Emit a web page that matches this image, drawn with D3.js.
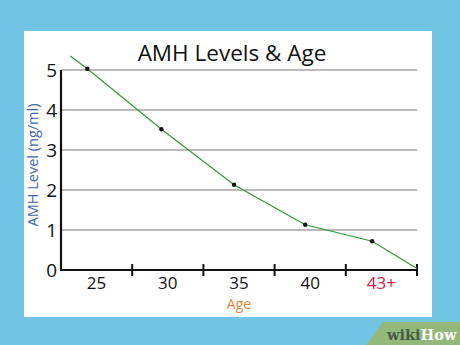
<!DOCTYPE html>
<html>
<head>
<meta charset="utf-8">
<script src="https://cdn.jsdelivr.net/npm/d3@7"></script>
<style>
  body { margin: 0; background: #72c4e4; }
  svg { display: block; }
</style>
</head>
<body>
<div id="container"></div>
<script>
let w = 460;
let h = 345;

// data
let ageLabels = ["25", "30", "35", "40", "43+"];
let yTicks = [0, 1, 2, 3, 4, 5];
// x in axis units (0..5, one unit per age band), y in ng/ml
let curveX = [0.13, 0.37, 1.41, 2.43, 3.43, 4.37, 5];
let curveY = [5.35, 5.03, 3.52, 2.13, 1.13, 0.72, 0.04];
let dotIndex = [1, 2, 3, 4, 5];

let viz = d3.select("#container")
  .append("svg")
    .attr("width", w)
    .attr("height", h)
;

// white panel
viz.append("rect")
  .attr("x", 24).attr("y", 31)
  .attr("width", 408).attr("height", 286)
  .attr("fill", "white");

let font = "'Open Sans', sans-serif";

viz.append("text")
  .text("AMH Levels & Age")
  .attr("x", 232).attr("y", 61)
  .attr("text-anchor", "middle")
  .attr("font-family", font)
  .attr("font-size", 22.5)
  .attr("fill", "#111");

let xScale = d3.scaleLinear().domain([0, 5]).range([61, 417]);
let yScale = d3.scaleLinear().domain([0, 5]).range([270, 70]);

// gridlines
viz.append("g").selectAll("line")
  .data(yTicks.filter(d => d > 0))
  .enter().append("line")
    .attr("x1", xScale(0)).attr("x2", xScale(5))
    .attr("y1", d => yScale(d)).attr("y2", d => yScale(d))
    .attr("stroke", "#777")
    .attr("stroke-width", 1);

// y tick labels
viz.append("g").selectAll("text")
  .data(yTicks)
  .enter().append("text")
    .text(d => d)
    .attr("x", 57)
    .attr("y", d => yScale(d) + 7)
    .attr("text-anchor", "end")
    .attr("font-family", font)
    .attr("font-size", 19)
    .attr("fill", "#111");

// axes
viz.append("line")
  .attr("x1", xScale(0)).attr("x2", xScale(0))
  .attr("y1", yScale(5)).attr("y2", yScale(0) + 1)
  .attr("stroke", "#111").attr("stroke-width", 2.2);
viz.append("line")
  .attr("x1", xScale(0)).attr("x2", xScale(5))
  .attr("y1", yScale(0)).attr("y2", yScale(0))
  .attr("stroke", "#111").attr("stroke-width", 2.2);

viz.append("g").selectAll("line")
  .data([1, 2, 3, 4, 5])
  .enter().append("line")
    .attr("x1", d => xScale(d)).attr("x2", d => xScale(d))
    .attr("y1", yScale(0) - 6).attr("y2", yScale(0) + 6)
    .attr("stroke", "#111").attr("stroke-width", 2);

// age labels
viz.append("g").selectAll("text")
  .data(ageLabels)
  .enter().append("text")
    .text(d => d)
    .attr("x", (d, i) => xScale(i + 0.5))
    .attr("y", 289)
    .attr("text-anchor", "middle")
    .attr("font-family", font)
    .attr("font-size", 17)
    .attr("fill", d => d == "43+" ? "#d3243f" : "#111");

viz.append("text")
  .text("Age")
  .attr("x", 239).attr("y", 309)
  .attr("text-anchor", "middle")
  .attr("font-family", font)
  .attr("font-size", 14)
  .attr("fill", "#e3823f");

viz.append("text")
  .text("AMH Level (ng/ml)")
  .attr("transform", "translate(38,165) rotate(-90)")
  .attr("text-anchor", "middle")
  .attr("font-family", font)
  .attr("font-size", 14.5)
  .attr("fill", "#4367a8");

// curve
let line = d3.line()
  .x((d, i) => xScale(curveX[i]))
  .y((d, i) => yScale(curveY[i]));

viz.append("path")
  .datum(curveY)
  .attr("d", line)
  .attr("fill", "none")
  .attr("stroke", "#2f9a34")
  .attr("stroke-width", 1.2);

viz.append("g").selectAll("circle")
  .data(dotIndex)
  .enter().append("circle")
    .attr("cx", d => xScale(curveX[d]))
    .attr("cy", d => yScale(curveY[d]))
    .attr("r", 2.2)
    .attr("fill", "#111");

// wikiHow badge
viz.append("polygon")
  .attr("points", "383,322 460,322 460,345 366,345")
  .attr("fill", "#93b97a");
viz.append("text")
  .attr("x", 387).attr("y", 340)
  .attr("font-family", "'DejaVu Serif', serif")
  .attr("font-weight", "bold")
  .attr("font-size", 14.5)
  .call(t => {
    t.append("tspan").text("wiki").attr("fill", "#4a5a48");
    t.append("tspan").text("How").attr("fill", "white");
  });
</script>
</body>
</html>
